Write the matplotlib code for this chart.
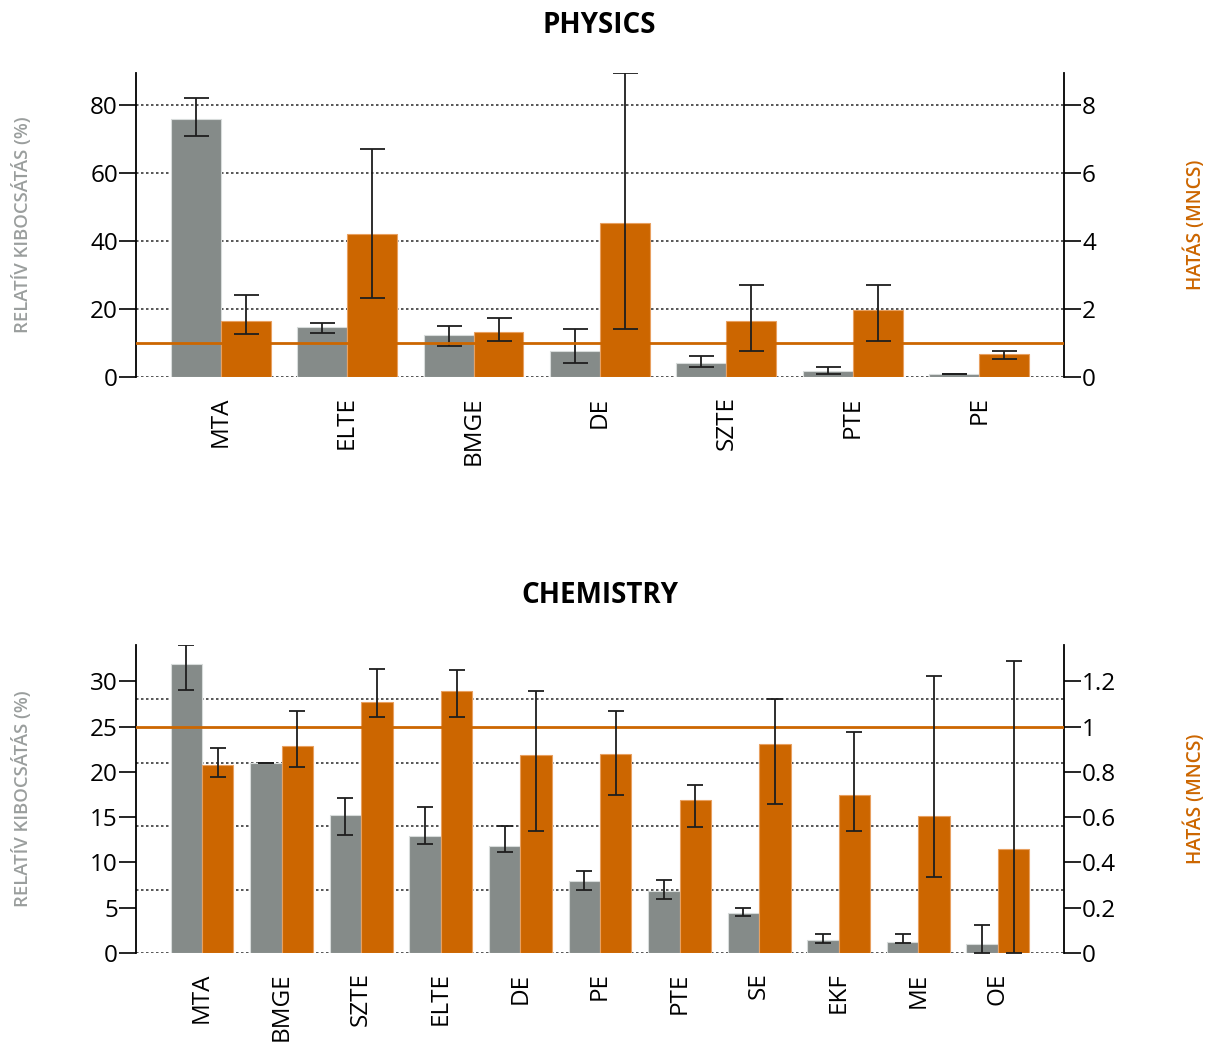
import numpy as np
import matplotlib.pyplot as plt

plt.rcParams['font.family'] = ['Open Sans', 'DejaVu Sans']

GRAY = '#858b89'
ORANGE = '#cc6600'
ERR = '#1e1e1e'

# physics
phys_labels = ['MTA', 'ELTE', 'BMGE', 'DE', 'SZTE', 'PTE', 'PE']
phys_share = [75.8, 14.8, 12.5, 7.6, 4.1, 1.8, 0.9]
phys_share_lo = [70.9, 13.0, 9.1, 4.0, 2.9, 1.0, 0.8]
phys_share_hi = [82.0, 16.0, 15.1, 14.1, 6.1, 3.0, 1.0]
phys_mncs = [1.65, 4.20, 1.31, 4.52, 1.65, 1.96, 0.69]
phys_mncs_lo = [1.26, 2.33, 1.07, 1.41, 0.76, 1.06, 0.53]
phys_mncs_hi = [2.40, 6.71, 1.74, 8.94, 2.71, 2.71, 0.77]

# chemistry
chem_labels = ['MTA', 'BMGE', 'SZTE', 'ELTE', 'DE', 'PE', 'PTE', 'SE', 'EKF', 'ME', 'OE']
chem_share = [31.9, 20.95, 15.2, 12.9, 11.8, 8.0, 6.8, 4.4, 1.4, 1.2, 1.0]
chem_share_lo = [29.0, 20.95, 13.0, 12.0, 11.1, 7.0, 6.0, 4.1, 1.07, 1.07, 0.0]
chem_share_hi = [34.0, 20.95, 17.1, 16.1, 14.0, 9.1, 8.1, 5.0, 2.1, 2.1, 3.1]
chem_mncs = [0.828, 0.915, 1.109, 1.159, 0.873, 0.879, 0.675, 0.921, 0.696, 0.604, 0.460]
chem_mncs_lo = [0.775, 0.82, 1.04, 1.04, 0.54, 0.698, 0.556, 0.659, 0.537, 0.337, 0.0]
chem_mncs_hi = [0.903, 1.07, 1.253, 1.248, 1.156, 1.07, 0.74, 1.12, 0.974, 1.223, 1.289]

fig = plt.figure(figsize=(12.16, 10.43), dpi=100)


def panel(rect, title, title_y, labels, share, s_lo, s_hi, mncs, m_lo, m_hi,
          ylim, rlim, yticks, grid, rticks, rticklabels, margin, capsize):
    ax = fig.add_axes(rect)
    ax2 = ax.twinx()
    x = np.arange(len(labels))
    w = 0.395
    share = np.array(share)
    mncs = np.array(mncs)
    s_err = [share - np.array(s_lo), np.array(s_hi) - share]
    m_err = [mncs - np.array(m_lo), np.array(m_hi) - mncs]

    for g in grid:
        ax.axhline(g, color='#3a3a3a', lw=1.2, ls=(0, (1.5, 1.5)), zorder=0)
    ax.bar(x - w / 2, share, w, color=GRAY, edgecolor='#d8dcdb', lw=0.8, zorder=2)
    ax.errorbar(x - w / 2, share, yerr=s_err, fmt='none', ecolor=ERR,
                elinewidth=1.3, capsize=capsize, capthick=1.3, zorder=3)

    ax2.bar(x + w / 2, mncs, w, color=ORANGE, edgecolor='#e8a060', lw=0.8, zorder=2)
    ax2.axhline(1.0, color=ORANGE, lw=2, zorder=3)
    ax2.errorbar(x + w / 2, mncs, yerr=m_err, fmt='none', ecolor=ERR,
                 elinewidth=1.3, capsize=capsize, capthick=1.3, zorder=4)

    ax.set_xlim(-margin, len(labels) - 1 + margin)
    ax.set_ylim(0, ylim)
    ax2.set_ylim(0, rlim)
    ax.set_yticks(yticks)
    ax2.set_yticks(rticks)
    ax2.set_yticklabels(rticklabels)
    ax.set_xticks(x)
    ax.set_xticklabels(labels, rotation=90, fontsize=17.5)

    for a in (ax, ax2):
        for s in ('top', 'bottom'):
            a.spines[s].set_visible(False)
        a.tick_params(axis='y', length=12, width=1.2, labelsize=17.5, pad=1)
        a.patch.set_visible(False)
    ax.spines['right'].set_visible(False)
    ax2.spines['left'].set_visible(False)
    ax.spines['left'].set_linewidth(1.3)
    ax2.spines['right'].set_linewidth(1.3)
    ax.tick_params(axis='x', length=0, pad=14)

    fig.text(0.493, title_y, title, ha='center', va='center', fontsize=20, fontweight='bold')
    yc = rect[1] + rect[3] / 2
    fig.text(0.018, yc, 'RELATÍV KIBOCSÁTÁS (%)', rotation=90, ha='center', va='center',
             fontsize=13.3, color='#9a9e9d', fontweight='semibold')
    fig.text(0.983, yc, 'HATÁS (MNCS)', rotation=90, ha='center', va='center',
             fontsize=13.8, color=ORANGE, fontweight='semibold')
    return ax, ax2


panel([0.1118, 0.6385, 0.7632, 0.2915], 'PHYSICS', 0.976,
      phys_labels, phys_share, phys_share_lo, phys_share_hi,
      phys_mncs, phys_mncs_lo, phys_mncs_hi,
      89.4, 8.94, [0, 20, 40, 60, 80], [0, 20, 40, 60, 80],
      [0, 2, 4, 6, 8], ['0', '2', '4', '6', '8'], 0.67, 9)

panel([0.1118, 0.0863, 0.7632, 0.2953], 'CHEMISTRY', 0.4286,
      chem_labels, chem_share, chem_share_lo, chem_share_hi,
      chem_mncs, chem_mncs_lo, chem_mncs_hi,
      34.0, 1.36, [0, 5, 10, 15, 20, 25, 30], [0, 7, 14, 21, 28],
      [0, 0.2, 0.4, 0.6, 0.8, 1.0, 1.2], ['0', '0.2', '0.4', '0.6', '0.8', '1', '1.2'], 0.83, 6)

fig.savefig('out.png', dpi=100)
